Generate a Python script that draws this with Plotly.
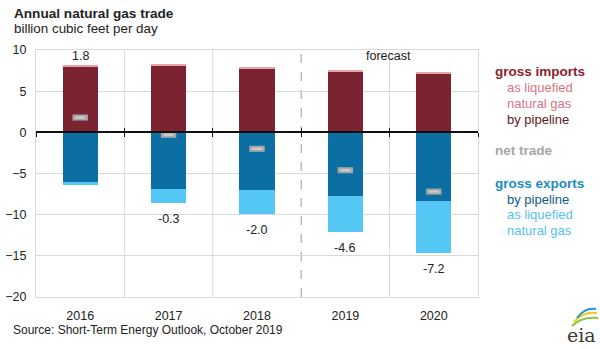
import plotly.graph_objects as go

# ---------------- data ----------------
years = ["2016", "2017", "2018", "2019", "2020"]
imports_pipeline = [7.95, 8.15, 7.77, 7.40, 7.17]
imports_lng = [0.25, 0.10, 0.08, 0.10, 0.20]
exports_pipeline = [-6.00, -6.85, -7.05, -7.70, -8.40]
exports_lng = [-0.45, -1.75, -2.90, -4.40, -6.20]
net_trade = [1.8, -0.3, -2.0, -4.6, -7.2]
net_labels = ["1.8", "-0.3", "-2.0", "-4.6", "-7.2"]
first_forecast = "2019"
y_ticks = [10, 5, 0, -5, -10, -15, -20]

# ---------------- layout geometry ----------------
W, H = 600, 349
L, R, T, B = 36, 122, 50, 52
FONT = "Liberation Sans, Arial, sans-serif"

def px_x(p):
    return (p - L) / (W - L - R)

def px_y(p):
    return (H - B - p) / (H - T - B)

xs = list(range(len(years)))
ymin, ymax = min(y_ticks), max(y_ticks)

C_IMP_PIPE = "#7b2330"
C_IMP_LNG = "#e9a3ab"
C_EXP_PIPE = "#0b6fa3"
C_EXP_LNG = "#55c7f4"

fig = go.Figure()
fig.add_bar(x=xs, y=imports_pipeline, marker_color=C_IMP_PIPE, width=0.4,
            marker_line_width=0, showlegend=False)
fig.add_bar(x=xs, y=imports_lng, marker_color=C_IMP_LNG, width=0.4,
            marker_line_width=0, showlegend=False)
fig.add_bar(x=xs, y=exports_pipeline, marker_color=C_EXP_PIPE, width=0.4,
            marker_line_width=0, showlegend=False)
fig.add_bar(x=xs, y=exports_lng, marker_color=C_EXP_LNG, width=0.4,
            marker_line_width=0, showlegend=False)

# net trade markers (rounded-ish gray dash)
fig.add_scatter(x=xs, y=net_trade, mode="markers", showlegend=False,
                marker=dict(symbol="line-ew", size=11,
                            line=dict(width=6, color="#a8a8a8")))
fig.add_scatter(x=xs, y=net_trade, mode="markers", showlegend=False,
                marker=dict(symbol="line-ew", size=7,
                            line=dict(width=2, color="#cfcfcf")))

# net trade labels
annotations = []
for i, (n, lab) in enumerate(zip(net_trade, net_labels)):
    if n >= 0:
        yv = imports_pipeline[i] + imports_lng[i]
        shift = 9
    else:
        yv = exports_pipeline[i] + exports_lng[i]
        shift = -16
    annotations.append(dict(x=i, y=yv, xref="x", yref="y", text=lab,
                            showarrow=False, yshift=shift,
                            font=dict(family=FONT, size=12.5, color="#222")))

# forecast divider
fi = years.index(first_forecast)
shapes = [dict(type="line", xref="x", yref="paper", x0=fi - 0.5, x1=fi - 0.5,
               y0=0, y1=1, line=dict(color="#9a9a9a", width=1, dash="dash"),
               layer="below")]
# category boundary gridlines
for b in range(len(years) - 1):
    if b + 0.5 == fi - 0.5:
        continue
    shapes.append(dict(type="line", xref="x", yref="paper", x0=b + 0.5, x1=b + 0.5,
                       y0=0, y1=1, line=dict(color="#d9d9d9", width=1), layer="below"))

annotations.append(dict(x=fi + 0.49, y=9.3, xref="x", yref="y", text="forecast",
                        showarrow=False, font=dict(family=FONT, size=12.5, color="#222")))

# titles
annotations.append(dict(x=px_x(12), y=px_y(13), xref="paper", yref="paper",
                        xanchor="left", yanchor="middle", showarrow=False,
                        text="<b>Annual natural gas trade</b>",
                        font=dict(family=FONT, size=13.6, color="#222")))
annotations.append(dict(x=px_x(12), y=px_y(29), xref="paper", yref="paper",
                        xanchor="left", yanchor="middle", showarrow=False,
                        text="billion cubic feet per day",
                        font=dict(family=FONT, size=13.4, color="#222")))
annotations.append(dict(x=px_x(11), y=px_y(330), xref="paper", yref="paper",
                        xanchor="left", yanchor="middle", showarrow=False,
                        text="Source: Short-Term Energy Outlook, October 2019",
                        font=dict(family=FONT, size=12, color="#222")))
annotations.append(dict(x=px_x(581), y=px_y(335), xref="paper", yref="paper",
                        xanchor="center", yanchor="middle", showarrow=False,
                        text="eia",
                        font=dict(family="DejaVu Serif, serif", size=19, color="#3a3a3a")))

# eia logo arcs (decoration)
for (x0, y0, x1, y1, cx, cy, col) in [
    (572, 326, 598, 318, 582, 316, "#8dc63f"),
    (574, 322, 597, 313, 583, 311, "#f7c51e"),
    (577, 318, 596, 309, 585, 307, "#1a9ad6"),
]:
    shapes.append(dict(type="path", xref="paper", yref="paper",
                       path=f"M {px_x(x0)},{px_y(y0)} Q {px_x(cx)},{px_y(cy)} {px_x(x1)},{px_y(y1)}",
                       line=dict(color=col, width=2)))

# legend text
legend_items = [
    ("<b>gross imports</b>", 493, 71, "#8c1c2c", 13.5),
    ("as liquefied", 505, 87, "#d9757f", 13),
    ("natural gas", 505, 103, "#d9757f", 13),
    ("by pipeline", 505, 119, "#5e1820", 13),
    ("<b>net trade</b>", 493, 150, "#a6a6a6", 13.5),
    ("<b>gross exports</b>", 493, 183, "#1b8cc4", 13.5),
    ("by pipeline", 505, 199, "#0d5b88", 13),
    ("as liquefied", 505, 214, "#55c3ee", 13),
    ("natural gas", 505, 230, "#55c3ee", 13),
]
for txt, px, py, col, fs in legend_items:
    annotations.append(dict(x=px_x(px), y=px_y(py), xref="paper", yref="paper",
                            xanchor="left", yanchor="middle", showarrow=False,
                            text=txt, font=dict(family=FONT, size=fs, color=col)))

boundaries = [i - 0.5 for i in range(len(years) + 1)]
zero_pos = (0 - ymin) / (ymax - ymin)

fig.update_layout(
    width=W, height=H,
    margin=dict(l=L, r=R, t=T, b=B, autoexpand=False),
    plot_bgcolor="white", paper_bgcolor="white",
    barmode="relative", bargap=0,
    showlegend=False,
    font=dict(family=FONT, size=12, color="#222"),
    annotations=annotations,
    shapes=shapes,
    xaxis=dict(range=[-0.5, len(years) - 0.5], tickvals=xs, ticktext=years,
               showgrid=False, zeroline=False, showline=True, mirror=True,
               linecolor="#d9d9d9", linewidth=1, ticks="", ticklabelstandoff=7,
               automargin=False,
               tickfont=dict(family=FONT, size=12.5, color="#222")),
    xaxis2=dict(overlaying="x", matches="x", anchor="free", position=zero_pos,
                side="bottom", tickvals=boundaries, showticklabels=False,
                ticks="outside", ticklen=4, tickcolor="#111", tickwidth=1,
                showline=True, linecolor="#111", linewidth=1.5, automargin=False,
                showgrid=False, zeroline=False),
    xaxis3=dict(overlaying="x", matches="x", anchor="free", position=zero_pos,
                side="bottom", tickvals=boundaries, showticklabels=False,
                ticks="inside", ticklen=4, tickcolor="#111", tickwidth=1,
                automargin=False,
                showline=False, showgrid=False, zeroline=False),
    yaxis=dict(range=[ymin, ymax], tickvals=y_ticks, showgrid=True,
               gridcolor="#d9d9d9", zeroline=False, showline=True, mirror=True,
               linecolor="#d9d9d9", ticks="", ticklabelstandoff=6,
               automargin=False,
               tickfont=dict(family=FONT, size=12.5, color="#222")),
)

# dummy traces to realize the zero-axis ticks
fig.add_scatter(x=[xs[0]], y=[0], xaxis="x2", mode="markers",
                marker=dict(opacity=0), showlegend=False, hoverinfo="skip")
fig.add_scatter(x=[xs[0]], y=[0], xaxis="x3", mode="markers",
                marker=dict(opacity=0), showlegend=False, hoverinfo="skip")

fig.write_html("out.html")
